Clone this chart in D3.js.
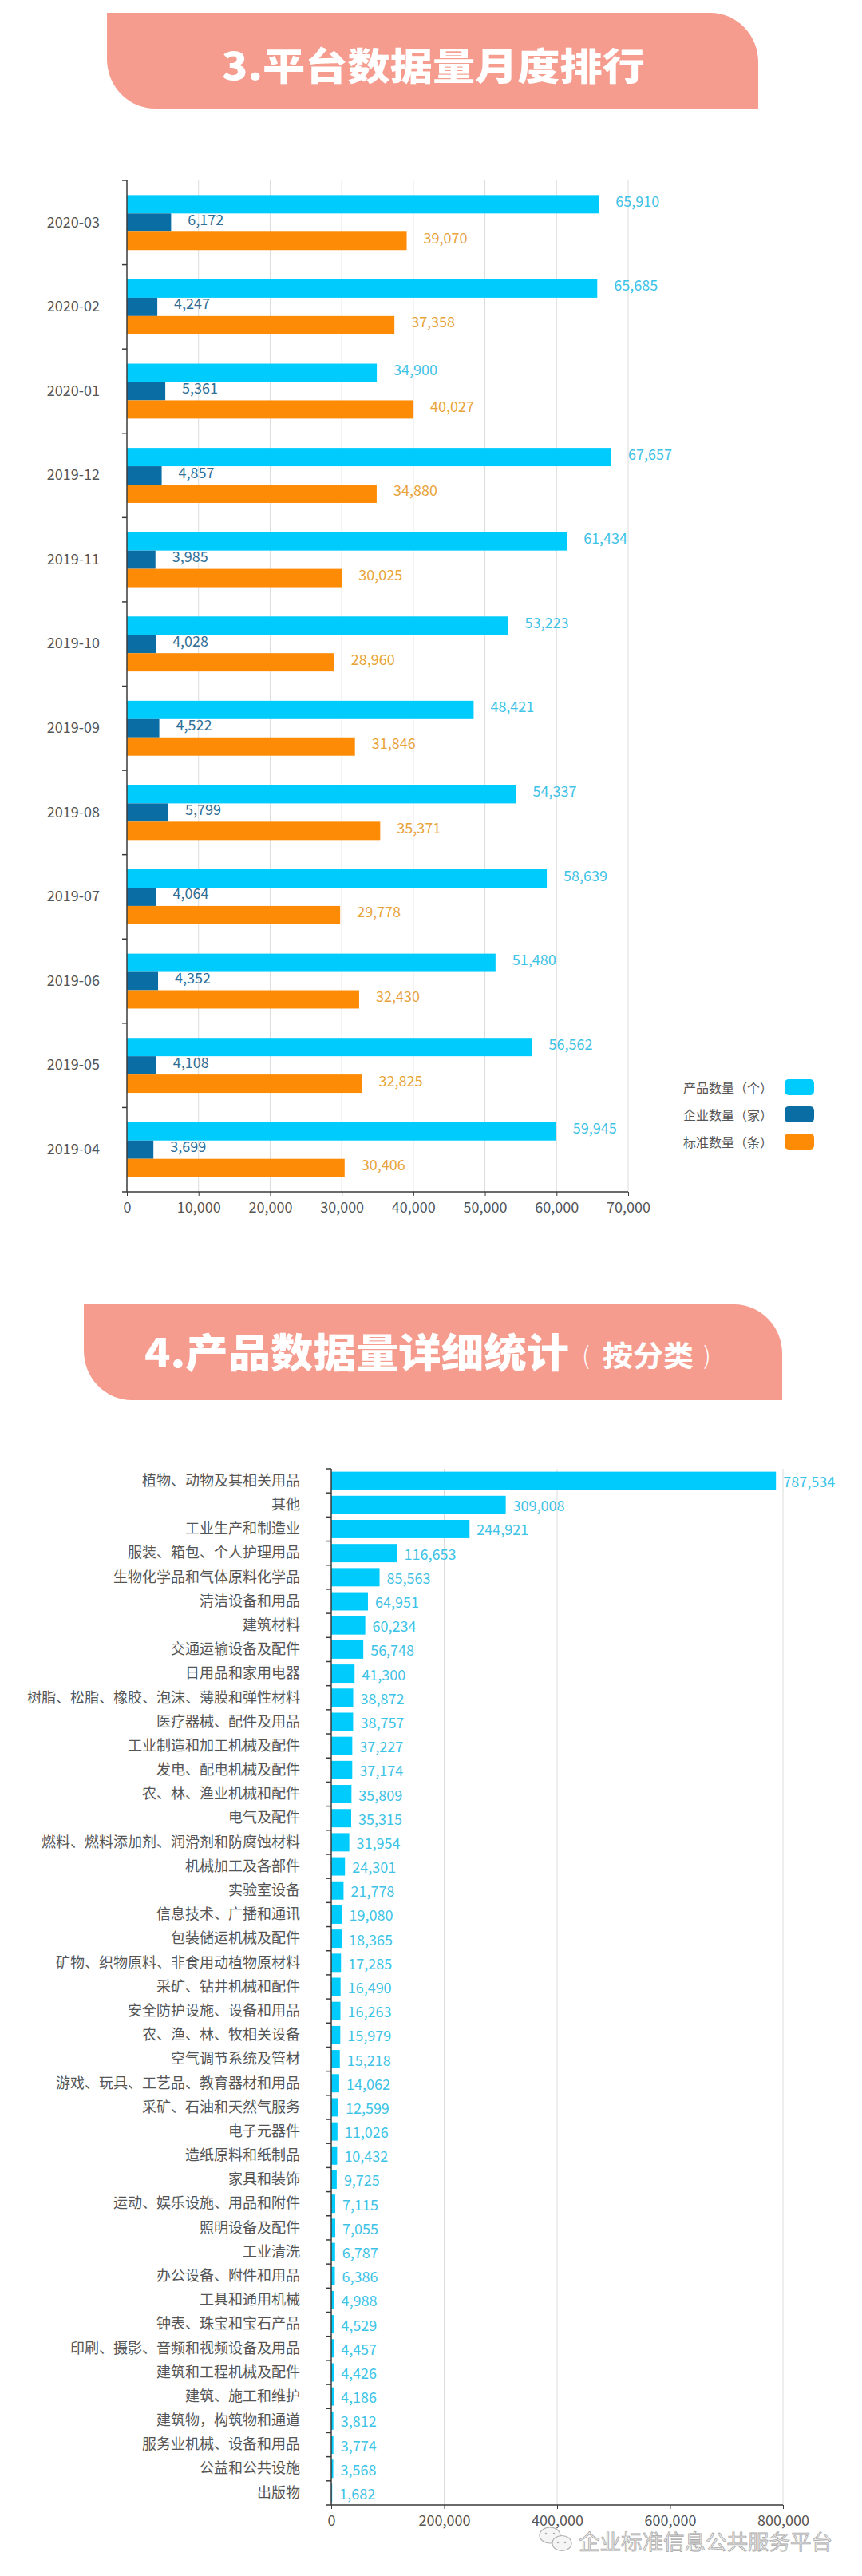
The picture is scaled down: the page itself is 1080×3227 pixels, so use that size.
<!DOCTYPE html>
<html>
<head>
<meta charset="utf-8">
<script src="https://cdn.jsdelivr.net/npm/d3@7/dist/d3.min.js"></script>
<style>
  html, body { margin: 0; padding: 0; background: #ffffff; }
  svg { display: block; }
  text { font-family: "Noto Sans CJK SC", "Noto Sans", sans-serif; }
</style>
</head>
<body>
<svg id="chart" width="1080" height="3227"></svg>
<script>
// ---------------- DATA ----------------
const banner1Title = "3.平台数据量月度排行";
const banner2Title = "4.产品数据量详细统计";
const banner2Sub = "按分类";

// Chart 1 (top to bottom order as displayed)
const months = ["2020-03","2020-02","2020-01","2019-12","2019-11","2019-10","2019-09","2019-08","2019-07","2019-06","2019-05","2019-04"];
const productCounts  = [65910, 65685, 34900, 67657, 61434, 53223, 48421, 54337, 58639, 51480, 56562, 59945];
const companyCounts  = [6172, 4247, 5361, 4857, 3985, 4028, 4522, 5799, 4064, 4352, 4108, 3699];
const standardCounts = [39070, 37358, 40027, 34880, 30025, 28960, 31846, 35371, 29778, 32430, 32825, 30406];
const seriesNames = ["产品数量（个）", "企业数量（家）", "标准数量（条）"];
const seriesColors = ["#00CBFD", "#0A6EA4", "#FD8B05"];
const seriesLabelColors = ["#3EC3E6", "#2F6F98", "#E8A33B"];
const xTicks1 = [0, 10000, 20000, 30000, 40000, 50000, 60000, 70000];

// Chart 2 (top to bottom order as displayed)
const categories = [
  "植物、动物及其相关用品","其他","工业生产和制造业","服装、箱包、个人护理用品","生物化学品和气体原料化学品",
  "清洁设备和用品","建筑材料","交通运输设备及配件","日用品和家用电器","树脂、松脂、橡胶、泡沫、薄膜和弹性材料",
  "医疗器械、配件及用品","工业制造和加工机械及配件","发电、配电机械及配件","农、林、渔业机械和配件","电气及配件",
  "燃料、燃料添加剂、润滑剂和防腐蚀材料","机械加工及各部件","实验室设备","信息技术、广播和通讯","包装储运机械及配件",
  "矿物、织物原料、非食用动植物原材料","采矿、钻井机械和配件","安全防护设施、设备和用品","农、渔、林、牧相关设备","空气调节系统及管材",
  "游戏、玩具、工艺品、教育器材和用品","采矿、石油和天然气服务","电子元器件","造纸原料和纸制品","家具和装饰",
  "运动、娱乐设施、用品和附件","照明设备及配件","工业清洗","办公设备、附件和用品","工具和通用机械",
  "钟表、珠宝和宝石产品","印刷、摄影、音频和视频设备及用品","建筑和工程机械及配件","建筑、施工和维护","建筑物，构筑物和通道",
  "服务业机械、设备和用品","公益和公共设施","出版物"
];
const categoryValues = [
  787534, 309008, 244921, 116653, 85563,
  64951, 60234, 56748, 41300, 38872,
  38757, 37227, 37174, 35809, 35315,
  31954, 24301, 21778, 19080, 18365,
  17285, 16490, 16263, 15979, 15218,
  14062, 12599, 11026, 10432, 9725,
  7115, 7055, 6787, 6386, 4988,
  4529, 4457, 4426, 4186, 3812,
  3774, 3568, 1682
];
const xTicks2 = [0, 200000, 400000, 600000, 800000];
const watermarkText = "企业标准信息公共服务平台";

// ---------------- DRAW ----------------
const svg = d3.select("#chart");
const fmt = d3.format(",");
const axisColor = "#3a3a3a";
const gridColor = "#dcdcdc";
const textColor = "#555555";

function bannerPath(x0, y0, x1, y1, rx, ry) {
  return `M${x0},${y0} H${x1 - rx} A${rx},${ry} 0 0 1 ${x1},${y0 + ry} V${y1} H${x0 + rx} A${rx},${ry} 0 0 1 ${x0},${y1 - ry} Z`;
}

// Banner 1
svg.append("path").attr("d", bannerPath(134, 16, 950, 136, 60, 62)).attr("fill", "#F59C8E");
svg.append("text").attr("x", 278).attr("y", 79)
  .attr("dominant-baseline", "central")
  .attr("font-size", 47).attr("font-weight", 900).attr("fill", "#ffffff")
  .attr("textLength", 530).attr("lengthAdjust", "spacingAndGlyphs")
  .text(banner1Title);

// Banner 2
svg.append("path").attr("d", bannerPath(105, 1634, 980, 1754, 60, 62)).attr("fill", "#F59C8E");
svg.append("text").attr("x", 181).attr("y", 1691)
  .attr("dominant-baseline", "central")
  .attr("font-size", 50).attr("font-weight", 900).attr("fill", "#ffffff")
  .attr("textLength", 532).attr("lengthAdjust", "spacingAndGlyphs")
  .text(banner2Title);
svg.append("text").attr("x", 734).attr("y", 1696)
  .attr("text-anchor", "middle").attr("dominant-baseline", "central")
  .attr("font-size", 30).attr("font-weight", 300).attr("fill", "#ffffff")
  .text("(");
svg.append("text").attr("x", 755).attr("y", 1696)
  .attr("dominant-baseline", "central")
  .attr("font-size", 36).attr("font-weight", 700).attr("fill", "#ffffff")
  .attr("textLength", 114).attr("lengthAdjust", "spacingAndGlyphs")
  .text(banner2Sub);
svg.append("text").attr("x", 886).attr("y", 1696)
  .attr("text-anchor", "middle").attr("dominant-baseline", "central")
  .attr("font-size", 30).attr("font-weight", 300).attr("fill", "#ffffff")
  .text(")");

// ---------------- Chart 1 ----------------
(function () {
  const left = 159, right = 787, top = 226, bottom = 1493;
  const x = d3.scaleLinear().domain([0, 70000]).range([left, right]);
  const y = d3.scaleBand().domain(months).range([top, bottom]).padding(0);
  const inner = d3.scaleBand().domain(seriesNames).range([0, y.bandwidth()]).paddingInner(0).paddingOuter(0.8);
  const seriesData = [productCounts, companyCounts, standardCounts];
  const g = svg.append("g");

  g.selectAll(".grid1").data(xTicks1.slice(1)).join("line")
    .attr("x1", d => x(d)).attr("x2", d => x(d))
    .attr("y1", top).attr("y2", bottom)
    .attr("stroke", gridColor).attr("stroke-width", 1);

  seriesData.forEach((vals, si) => {
    const name = seriesNames[si];
    g.selectAll(".bar" + si).data(months).join("rect")
      .attr("x", x(0))
      .attr("y", (m) => y(m) + inner(name))
      .attr("width", (m, i) => x(vals[i]) - x(0))
      .attr("height", inner.bandwidth())
      .attr("fill", seriesColors[si]);
    g.selectAll(".lab" + si).data(months).join("text")
      .attr("x", (m, i) => x(vals[i]) + 21)
      .attr("y", (m) => y(m) + inner(name) + inner.bandwidth() / 2 - 5)
      .attr("dominant-baseline", "central")
      .attr("font-size", 18).attr("fill", seriesLabelColors[si])
      .text((m, i) => fmt(vals[i]));
  });

  const yAxis = d3.axisLeft(y).tickSize(0).tickPadding(34);
  const ya = g.append("g").attr("transform", `translate(${left},0)`).call(yAxis);
  ya.select(".domain").attr("stroke", axisColor).attr("stroke-width", 1.5).attr("d", `M0,${top}V${bottom}`);
  ya.selectAll(".tick text").attr("font-size", 18).attr("fill", textColor)
    .attr("font-family", '"Noto Sans CJK SC", sans-serif');
  const bounds1 = d3.range(months.length + 1).map(i => top + i * y.step());
  g.selectAll(".ytick1").data(bounds1).join("line")
    .attr("x1", left - 6).attr("x2", left).attr("y1", d => d).attr("y2", d => d)
    .attr("stroke", axisColor).attr("stroke-width", 1.5);

  const xAxis = d3.axisBottom(x).tickValues(xTicks1).tickFormat(fmt).tickSize(5).tickPadding(8);
  const xa = g.append("g").attr("transform", `translate(0,${bottom})`).call(xAxis);
  xa.select(".domain").attr("stroke", axisColor).attr("stroke-width", 1.5).attr("d", `M${left},0H${right}`);
  xa.selectAll(".tick line").attr("stroke", axisColor);
  xa.selectAll(".tick text").attr("font-size", 18).attr("fill", textColor)
    .attr("font-family", '"Noto Sans CJK SC", sans-serif');

  const legendY = [1362, 1396, 1430];
  seriesNames.forEach((n, i) => {
    svg.append("rect").attr("x", 983).attr("y", legendY[i] - 10).attr("width", 37).attr("height", 20)
      .attr("rx", 5).attr("fill", seriesColors[i]);
    svg.append("text").attr("x", 968).attr("y", legendY[i]).attr("text-anchor", "end")
      .attr("dominant-baseline", "central").attr("font-size", 16).attr("fill", textColor).text(n);
  });
})();

// ---------------- Chart 2 ----------------
(function () {
  const left = 415, right = 981, top = 1840, bottom = 3138;
  const x = d3.scaleLinear().domain([0, 800000]).range([left, right]);
  const y = d3.scaleBand().domain(categories).range([top, bottom]).paddingInner(0.24).paddingOuter(0.12);
  const g = svg.append("g");

  g.selectAll(".grid2").data(xTicks2.slice(1)).join("line")
    .attr("x1", d => x(d)).attr("x2", d => x(d))
    .attr("y1", top).attr("y2", bottom)
    .attr("stroke", gridColor).attr("stroke-width", 1);

  g.selectAll(".bar2").data(categories).join("rect")
    .attr("x", x(0))
    .attr("y", c => y(c))
    .attr("width", (c, i) => Math.max(1, x(categoryValues[i]) - x(0)))
    .attr("height", y.bandwidth())
    .attr("fill", seriesColors[0]);

  g.selectAll(".lab2").data(categories).join("text")
    .attr("x", (c, i) => x(categoryValues[i]) + 9)
    .attr("y", c => y(c) + y.bandwidth() / 2)
    .attr("dominant-baseline", "central")
    .attr("font-size", 18).attr("fill", seriesLabelColors[0])
    .text((c, i) => fmt(categoryValues[i]));

  const yAxis = d3.axisLeft(y).tickSize(0).tickPadding(39);
  const ya = g.append("g").attr("transform", `translate(${left},0)`).call(yAxis);
  ya.select(".domain").attr("stroke", axisColor).attr("stroke-width", 1.5).attr("d", `M0,${top}V${bottom}`);
  ya.selectAll(".tick text").attr("font-size", 18).attr("fill", textColor)
    .attr("font-family", '"Noto Sans CJK SC", sans-serif');
  const bounds2 = d3.range(categories.length + 1).map(i => top + i * y.step());
  g.selectAll(".ytick2").data(bounds2).join("line")
    .attr("x1", left - 6).attr("x2", left).attr("y1", d => d).attr("y2", d => d)
    .attr("stroke", axisColor).attr("stroke-width", 1.5);

  const xAxis = d3.axisBottom(x).tickValues(xTicks2).tickFormat(fmt).tickSize(5).tickPadding(8);
  const xa = g.append("g").attr("transform", `translate(0,${bottom})`).call(xAxis);
  xa.select(".domain").attr("stroke", axisColor).attr("stroke-width", 1.5).attr("d", `M${left},0H${right}`);
  xa.selectAll(".tick line").attr("stroke", axisColor);
  xa.selectAll(".tick text").attr("font-size", 18).attr("fill", textColor)
    .attr("font-family", '"Noto Sans CJK SC", sans-serif');
})();

// ---------------- Watermark ----------------
(function () {
  const wg = svg.append("g").attr("opacity", 0.9);
  wg.append("ellipse").attr("cx", 689).attr("cy", 3176).attr("rx", 13).attr("ry", 10)
    .attr("fill", "#f4f4f4").attr("stroke", "#a8a8a8").attr("stroke-width", 1.2);
  wg.append("ellipse").attr("cx", 704).attr("cy", 3186).attr("rx", 12).attr("ry", 9.5)
    .attr("fill", "#f4f4f4").attr("stroke", "#a8a8a8").attr("stroke-width", 1.2);
  [[699, 3185], [708, 3185]].forEach(p => wg.append("circle").attr("cx", p[0]).attr("cy", p[1]).attr("r", 1.3).attr("fill", "#a8a8a8"));
  [[684, 3174], [694, 3174]].forEach(p => wg.append("circle").attr("cx", p[0]).attr("cy", p[1]).attr("r", 1.3).attr("fill", "#a8a8a8"));
  wg.append("text").attr("x", 725).attr("y", 3182).attr("dominant-baseline", "central")
    .attr("font-size", 26).attr("fill", "#ececec").attr("stroke", "#a0a0a0").attr("stroke-width", 0.8)
    .attr("textLength", 318).attr("lengthAdjust", "spacingAndGlyphs")
    .text(watermarkText);
})();
</script>
</body>
</html>
